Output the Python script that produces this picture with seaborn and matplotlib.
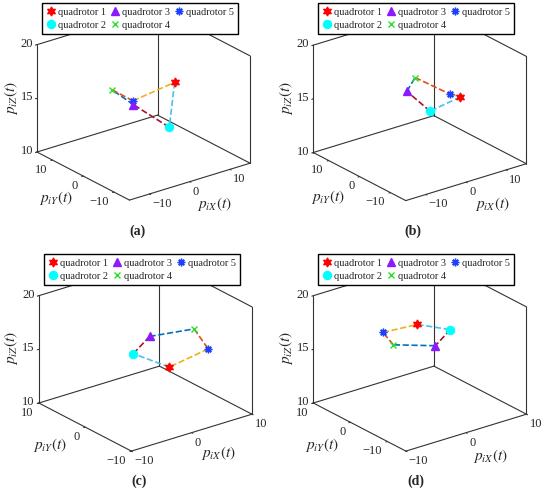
import numpy as np
import matplotlib
matplotlib.use("Agg")
import matplotlib.pyplot as plt
import seaborn as sns

# quadrotor positions [x, y, z]
pos_a = [[4.9, -3.7, 17.0], [3.5, -3.8, 13.0], [-1.8, 0.9, 15.0], [-3.9, 5.1, 16.0], [-0.7, 2.5, 15.0]]
pos_b = [[5.4, -6.1, 16.0], [2.8, 0.3, 14.0], [-1.3, 2.5, 16.0], [0.9, 2.7, 17.0], [4.6, -3.8, 16.0]]
pos_c = [[2.2, -2.3, 14.0], [-1.0, 1.3, 15.0], [2.0, 1.7, 16.0], [6.0, -2.7, 17.0], [6.7, -4.85, 15.5]]
pos_d = [[2.2, 1.75, 16.7], [4.6, -3.25, 16.7], [-0.2, -7.0, 16.7], [-4.4, -2.5, 16.7], [-3.0, 2.6, 16.7]]

panel_tags = ["(a)", "(b)", "(c)", "(d)"]
x_ranges = [(-15, 15), (-15, 15), (-10, 10), (-10, 10)]
y_ranges = [(-15, 15), (-15, 15), (-10, 10), (-15, 10)]
xy_ticks = [-10, 0, 10]
z_range = (10, 20)
z_ticks = [10, 15, 20]
names = ["quadrotor 1", "quadrotor 2", "quadrotor 3", "quadrotor 4", "quadrotor 5"]
links = [(0, 1), (1, 2), (2, 3), (3, 4), (4, 0)]

# styles
markers = [(6, 1, 0), "o", "^", "x", (8, 2, 0)]
marker_colors = ["#ff0000", "#00ffff", "#8c1aff", "#2ede2e", "#1f3fff"]
marker_sizes = [6.5, 5.8, 6.0, 4.5, 5.5]
link_colors = ["#4dbeee", "#a2142f", "#0072bd", "#d95319", "#edb120"]
box_color = "#333333"
text_color = "#262626"

# layout, pixels from the top-left of the 550x498 figure
W, H = 550, 498
panel_offsets = [(0, 0), (276.3, 0.5), (1.9, 251), (276.4, 251)]
base_corners = [(36.7, 151.7), (130, 200), (250, 163.3), (36.7, 45)]  # L, F, R, top-L of (a)
tag_pos = [(138, 231), (413, 231), (139, 481), (416, 481)]
xlabel_pos = [(214, 204), (492, 204), (218, 453), (490, 456)]
ylabel_pos = [(56, 198), (328, 197), (50, 445), (322, 445)]
zlabel_pos = [(11, 98), (286, 98), (11, 348), (286, 348)]
legend_pos = [(140, 3), (416, 3), (142, 254), (416, 254)]


def fig_xy(x, y):
    return x / W, 1 - y / H


def square_rect(cx, cy, s):
    return [(cx - s / 2) / W, 1 - (cy + s / 2) / H, s / W, s / H]


def fmt(v):
    return str(v).replace("-", "\u2212")


def project(ax, xs, ys, zs):
    xs, ys, zs = np.broadcast_arrays(np.asarray(xs, float), np.asarray(ys, float),
                                     np.asarray(zs, float))
    M = ax.get_proj()
    v = M @ np.vstack([xs, ys, zs, np.ones(len(xs))])
    p = ax.transData.transform(np.column_stack([v[0] / v[3], v[1] / v[3]]))
    p[:, 1] = H - p[:, 1]
    return p


def fit_box(ax, xr, yr, targets):
    # scale/shift the square 3d axes so the box corners land on the targets
    p = project(ax, [xr[0], xr[0], xr[1], xr[0]], [yr[1], yr[0], yr[0], yr[1]],
                [z_range[0]] * 3 + [z_range[1]])
    bb = ax.get_position()
    s = bb.width * W
    c = np.array([(bb.x0 + bb.width / 2) * W, H - (bb.y0 + bb.height / 2) * H])
    u = (p - c) / s
    t = np.asarray(targets, float)
    du, dt = u - u.mean(0), t - t.mean(0)
    s_new = (du * dt).sum() / (du ** 2).sum()
    c_new = t.mean(0) - s_new * u.mean(0)
    ax.set_position(square_rect(c_new[0], c_new[1], s_new))


def draw_box(ax, xr, yr):
    (x0, x1), (y0, y1), (z0, z1) = xr, yr, z_range
    edges = [
        ((x0, x1), (y0, y0), (z0, z0)),
        ((x0, x0), (y0, y1), (z0, z0)),
        ((x0, x1), (y1, y1), (z0, z0)),
        ((x1, x1), (y0, y1), (z0, z0)),
        ((x0, x0), (y1, y1), (z0, z1)),
        ((x1, x1), (y1, y1), (z0, z1)),
        ((x1, x1), (y0, y0), (z0, z1)),
        ((x0, x1), (y1, y1), (z1, z1)),
        ((x1, x1), (y0, y1), (z1, z1)),
    ]
    for ex, ey, ez in edges:
        ax.plot(ex, ey, ez, color=box_color, lw=0.8, zorder=1)


sns.set_style("white")
plt.rcParams["font.family"] = ["Liberation Serif", "DejaVu Serif"]
plt.rcParams["mathtext.fontset"] = "stix"

fig = plt.figure(figsize=(W / 100, H / 100), dpi=100)
all_pos = [pos_a, pos_b, pos_c, pos_d]
axes = []

for i, pos in enumerate(all_pos):
    ox, oy = panel_offsets[i]
    xr, yr = x_ranges[i], y_ranges[i]
    pos = np.array(pos)
    ax = fig.add_axes(square_rect(140 + ox, 120 + oy, 300), projection="3d",
                      proj_type="ortho", computed_zorder=False)
    ax.view_init(elev=23.5, azim=-127.5)
    ax.set_box_aspect((1, 1, 0.77))
    ax.set_xlim(*xr)
    ax.set_ylim(*yr)
    ax.set_zlim(*z_range)
    ax.set_xticks(xy_ticks, labels=[])
    ax.set_yticks(xy_ticks, labels=[])
    ax.set_zticks(z_ticks, labels=[])
    ax.grid(False)
    ax.patch.set_visible(False)
    for axis in (ax.xaxis, ax.yaxis, ax.zaxis):
        axis.pane.set_visible(False)
        axis.line.set_linewidth(0)
        axis._axinfo["tick"]["inward_factor"] = 0.15
        axis._axinfo["tick"]["outward_factor"] = 0.0
    ax.tick_params(colors=box_color)

    draw_box(ax, xr, yr)
    for k, (a, b) in enumerate(links):
        ax.plot(pos[[a, b], 0], pos[[a, b], 1], pos[[a, b], 2], ls="--",
                color=link_colors[k], lw=1.2, zorder=2)
    handles = []
    for q in range(len(names)):
        h, = ax.plot([pos[q, 0]], [pos[q, 1]], [pos[q, 2]], ls="none",
                     marker=markers[q], ms=marker_sizes[q], color=marker_colors[q],
                     mec=marker_colors[q], mew=1.0, zorder=8 - q)
        handles.append(h)

    ax.legend(handles, names, ncol=3, loc="upper center",
              bbox_to_anchor=fig_xy(*legend_pos[i]), bbox_transform=fig.transFigure,
              fontsize=7.4, frameon=True, fancybox=False, framealpha=1,
              edgecolor="black", borderpad=0.45, handletextpad=0.15,
              columnspacing=0.4, handlelength=1.0, labelspacing=0.35,
              borderaxespad=0)

    fig.text(*fig_xy(*zlabel_pos[i]), r"$p_{iZ}(t)$", rotation=90,
             ha="center", va="center", fontsize=11)
    fig.text(*fig_xy(*ylabel_pos[i]), r"$p_{iY}(t)$", ha="center", va="center", fontsize=11)
    fig.text(*fig_xy(*xlabel_pos[i]), r"$p_{iX}(t)$", ha="center", va="center", fontsize=11)
    fig.text(*fig_xy(*tag_pos[i]), panel_tags[i],
             ha="center", va="center", fontsize=10, fontweight="bold")
    axes.append(ax)

fig.canvas.draw()
for i, ax in enumerate(axes):
    ox, oy = panel_offsets[i]
    fit_box(ax, x_ranges[i], y_ranges[i], [(x + ox, y + oy) for x, y in base_corners])
fig.canvas.draw()

# tick labels placed next to the projected tick positions, MATLAB-like
for i, ax in enumerate(axes):
    xr, yr = x_ranges[i], y_ranges[i]
    for v, (sx, sy) in zip(xy_ticks, project(ax, xy_ticks, yr[0], z_range[0])):
        fig.text(*fig_xy(sx + 3, sy + 10), fmt(v), ha="left", va="center",
                 fontsize=9, color=text_color)
    for v, (sx, sy) in zip(xy_ticks, project(ax, xr[0], xy_ticks, z_range[0])):
        fig.text(*fig_xy(sx - 5, sy + 9.5), fmt(v), ha="right", va="center",
                 fontsize=9, color=text_color)
    for v, (sx, sy) in zip(z_ticks, project(ax, xr[0], yr[1], z_ticks)):
        fig.text(*fig_xy(sx - 4, sy - 1), fmt(v), ha="right", va="center",
                 fontsize=9, color=text_color)

fig.savefig("out.png", dpi=100, facecolor="white")
